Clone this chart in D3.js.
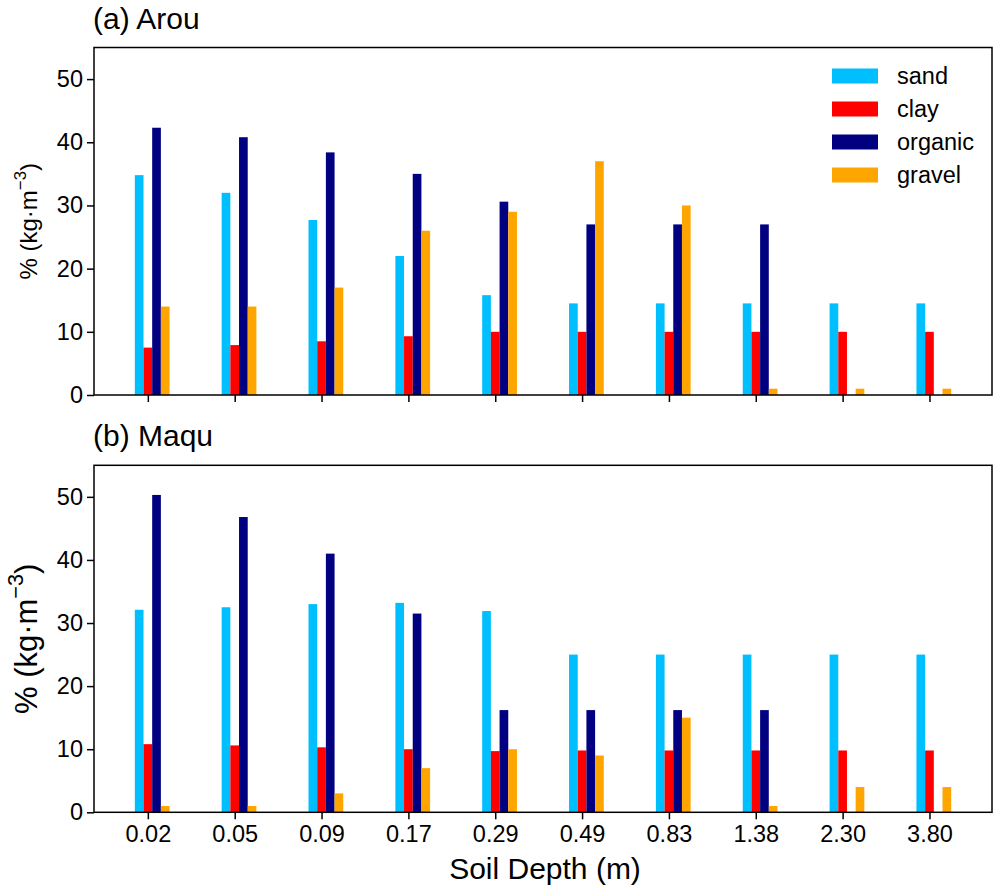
<!DOCTYPE html>
<html>
<head>
<meta charset="utf-8">
<script src="https://cdn.jsdelivr.net/npm/d3@7"></script>
<style>
  body { margin: 0; background: #fff; }
  svg { display: block; font-family: "Liberation Sans", Arial, sans-serif; }
  .domain { display: none; }
</style>
</head>
<body>
<svg id="chart" width="996" height="889"></svg>
<script>
// depth levels (m)
var depths = ["0.02", "0.05", "0.09", "0.17", "0.29", "0.49", "0.83", "1.38", "2.30", "3.80"];
var series = ["sand", "clay", "organic", "gravel"];
var colors = ["#00bfff", "#ff0000", "#000080", "#ffa500"];

// (a) Arou
var arouSand    = [34.8, 32.0, 27.7, 22.0, 15.8, 14.5, 14.5, 14.5, 14.5, 14.5];
var arouClay    = [7.5, 7.9, 8.5, 9.3, 10.0, 10.0, 10.0, 10.0, 10.0, 10.0];
var arouOrganic = [42.3, 40.8, 38.4, 35.0, 30.6, 27.0, 27.0, 27.0, 0, 0];
var arouGravel  = [14.0, 14.0, 17.0, 26.0, 29.0, 37.0, 30.0, 1.0, 1.0, 1.0];

// (b) Maqu
var maquSand    = [32.1, 32.5, 33.0, 33.2, 31.9, 25.0, 25.0, 25.0, 25.0, 25.0];
var maquClay    = [10.8, 10.6, 10.3, 10.0, 9.7, 9.8, 9.8, 9.8, 9.8, 9.8];
var maquOrganic = [50.3, 46.8, 41.0, 31.5, 16.2, 16.2, 16.2, 16.2, 0, 0];
var maquGravel  = [1.0, 1.0, 3.0, 7.0, 10.0, 9.0, 15.0, 1.0, 4.0, 4.0];

var yTicks = [0, 10, 20, 30, 40, 50];

var svg = d3.select("#chart");
var font = "\"Liberation Sans\", Arial, sans-serif";

var x = d3.scaleLinear().domain([-0.62, 9.72]).range([94, 992]);
var barW = 0.1, offsets = [-0.1, 0, 0.1, 0.2];

function panel(title, data, top, bottom, ylabSize, showXLabels, showLegend) {
  var y = d3.scaleLinear().domain([0, 55]).range([bottom, top]);
  var g = svg.append("g");

  // bars
  data.forEach(function(vals, s) {
    g.selectAll(null)
      .data(vals)
      .enter().append("rect")
      .attr("x", function(d, i) { return x(i + offsets[s] - barW / 2); })
      .attr("width", x(barW) - x(0))
      .attr("y", function(d) { return y(d); })
      .attr("height", function(d) { return y(0) - y(d); })
      .attr("fill", colors[s]);
  });

  // frame
  g.append("rect")
    .attr("x", x.range()[0]).attr("y", top)
    .attr("width", x.range()[1] - x.range()[0]).attr("height", bottom - top)
    .attr("fill", "none").attr("stroke", "#000").attr("stroke-width", 1.5);

  // y axis
  var ya = g.append("g").attr("transform", "translate(" + x.range()[0] + ",0)")
    .call(d3.axisLeft(y).tickValues(yTicks).tickSize(7).tickPadding(4));
  ya.selectAll("text").attr("font-size", 23.5).attr("font-family", font).attr("fill", "#000");
  ya.selectAll("line").attr("stroke", "#000").attr("stroke-width", 1.5);

  // x axis
  var xa = g.append("g").attr("transform", "translate(0," + bottom + ")")
    .call(d3.axisBottom(x).tickValues(d3.range(depths.length))
      .tickFormat(function(i) { return showXLabels ? depths[i] : ""; })
      .tickSize(7).tickPadding(6));
  xa.selectAll("text").attr("font-size", 23.5).attr("font-family", font).attr("fill", "#000");
  xa.selectAll("line").attr("stroke", "#000").attr("stroke-width", 1.5);

  // title
  g.append("text").attr("x", 93).attr("y", top - 19)
    .attr("font-size", 30).text(title);

  // y label
  var yl = g.append("text")
    .attr("transform", "translate(37," + (top + bottom) / 2 + ") rotate(-90)")
    .attr("text-anchor", "middle").attr("font-size", ylabSize);
  yl.append("tspan").text("% (kg\u00b7m");
  yl.append("tspan").attr("dy", -ylabSize * 0.45).attr("font-size", ylabSize * 0.7).text("\u22123");
  yl.append("tspan").attr("dy", ylabSize * 0.45).text(")");

  if (showLegend) {
    var lg = g.append("g");
    series.forEach(function(name, s) {
      var cy = 76 + s * 33;
      lg.append("rect").attr("x", 832).attr("y", cy - 7.5)
        .attr("width", 46).attr("height", 15).attr("fill", colors[s]);
      lg.append("text").attr("x", 897).attr("y", cy)
        .attr("dy", "0.35em").attr("font-size", 23.5).text(name);
    });
  }
}

panel("(a) Arou", [arouSand, arouClay, arouOrganic, arouGravel], 47.5, 395, 24, false, true);
panel("(b) Maqu", [maquSand, maquClay, maquOrganic, maquGravel], 465.3, 812.3, 31, true, false);

svg.append("text").attr("x", 545).attr("y", 879)
  .attr("text-anchor", "middle").attr("font-size", 30).text("Soil Depth (m)");
</script>
</body>
</html>
